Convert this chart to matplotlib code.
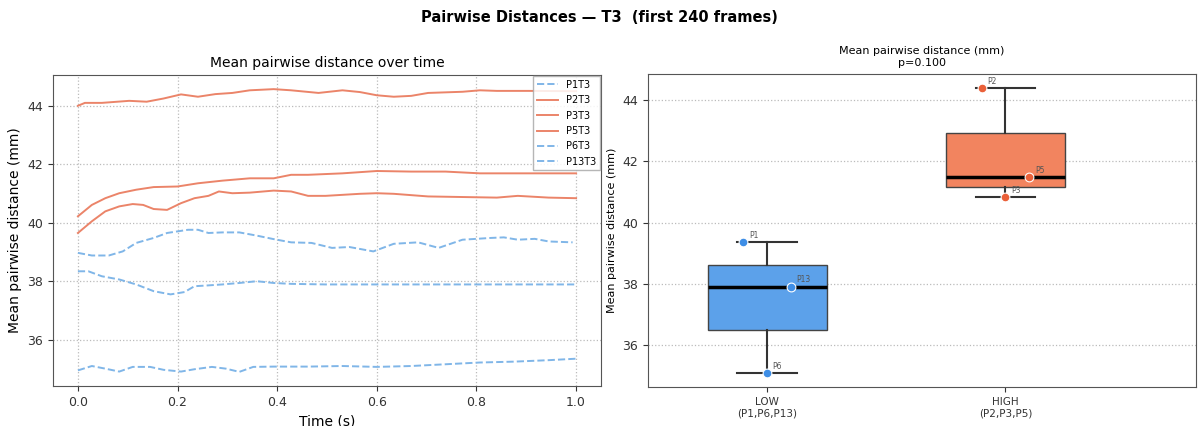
import matplotlib
matplotlib.use("Agg")
import matplotlib.pyplot as plt
import numpy as np

# ---- time series: mean pairwise distance (mm) per participant ----
t_p1 = [0.0, 0.028, 0.062, 0.09, 0.117, 0.152, 0.179, 0.221, 0.241, 0.262, 0.29, 0.324, 0.359,
        0.393, 0.428, 0.469, 0.51, 0.545, 0.593, 0.634, 0.683, 0.724, 0.772, 0.828, 0.855, 0.883,
        0.917, 0.945, 0.993]
p1 = [38.97, 38.88, 38.88, 39.02, 39.31, 39.48, 39.65, 39.76, 39.76, 39.65, 39.67, 39.67, 39.56,
      39.44, 39.33, 39.31, 39.14, 39.17, 39.02, 39.28, 39.33, 39.14, 39.42, 39.48, 39.5, 39.42,
      39.45, 39.36, 39.33]

t_p2 = [0.0, 0.014, 0.048, 0.103, 0.138, 0.172, 0.207, 0.241, 0.276, 0.31, 0.345, 0.393, 0.428,
        0.483, 0.531, 0.566, 0.6, 0.634, 0.669, 0.703, 0.772, 0.807, 0.841, 0.903, 1.0]
p2 = [44.0, 44.1, 44.1, 44.17, 44.14, 44.25, 44.39, 44.31, 44.4, 44.44, 44.53, 44.57, 44.53,
      44.44, 44.53, 44.47, 44.36, 44.31, 44.34, 44.44, 44.48, 44.53, 44.51, 44.51, 44.5]

t_p3 = [0.0, 0.028, 0.055, 0.083, 0.11, 0.131, 0.152, 0.179, 0.207, 0.234, 0.262, 0.283, 0.31,
        0.345, 0.393, 0.428, 0.462, 0.497, 0.566, 0.6, 0.634, 0.703, 0.772, 0.841, 0.883, 0.945, 1.0]
p3 = [39.65, 40.05, 40.39, 40.56, 40.64, 40.61, 40.47, 40.44, 40.67, 40.84, 40.92, 41.07, 41.01,
      41.03, 41.1, 41.07, 40.92, 40.92, 40.99, 41.01, 40.99, 40.9, 40.88, 40.86, 40.92, 40.86, 40.84]

t_p5 = [0.0, 0.028, 0.055, 0.083, 0.117, 0.152, 0.2, 0.241, 0.29, 0.345, 0.393, 0.428, 0.462,
        0.531, 0.6, 0.669, 0.738, 0.807, 0.876, 0.945, 1.0]
p5 = [40.22, 40.61, 40.84, 41.01, 41.13, 41.22, 41.24, 41.35, 41.44, 41.52, 41.52, 41.64, 41.64,
      41.69, 41.77, 41.75, 41.75, 41.69, 41.69, 41.69, 41.69]

t_p6 = [0.0, 0.028, 0.055, 0.083, 0.11, 0.145, 0.172, 0.207, 0.234, 0.269, 0.297, 0.324, 0.352,
        0.393, 0.462, 0.531, 0.6, 0.669, 0.738, 0.807, 0.876, 0.945, 1.0]
p6 = [34.95, 35.1, 35.01, 34.91, 35.07, 35.07, 34.97, 34.91, 34.99, 35.07, 35.01, 34.9, 35.07,
      35.08, 35.08, 35.1, 35.07, 35.1, 35.16, 35.22, 35.25, 35.3, 35.35]

t_p13 = [0.0, 0.021, 0.048, 0.083, 0.117, 0.152, 0.186, 0.214, 0.234, 0.255, 0.29, 0.324, 0.359,
         0.393, 0.428, 0.497, 0.634, 0.772, 1.0]
p13 = [38.34, 38.34, 38.17, 38.06, 37.89, 37.66, 37.55, 37.63, 37.83, 37.85, 37.89, 37.94, 38.0,
       37.94, 37.91, 37.89, 37.89, 37.89, 37.89]

# ---- per-participant means, grouped ----
low_names = ["P1", "P6", "P13"]
low_vals = [39.35, 35.1, 37.91]
high_names = ["P2", "P3", "P5"]
high_vals = [44.38, 40.82, 41.47]
group_labels = ["LOW\n(P1,P6,P13)", "HIGH\n(P2,P3,P5)"]
p_value = 0.100

ORANGE_LINE = "#eb8469"
BLUE_LINE = "#80b6e8"
LOW_FACE = "#5ca1ea"
HIGH_FACE = "#f2845f"
LOW_PT = "#3e8ee6"
HIGH_PT = "#ea6039"

fig = plt.figure(figsize=(11.98, 4.26), dpi=100)
fig.text(0.5, 1 - 18 / 426, "Pairwise Distances \u2014 T3  (first 240 frames)",
         ha="center", va="center", fontsize=10.5, fontweight="bold")

# ---- left: time series ----
ax1 = fig.add_axes([53 / 1198, 1 - 386 / 426, 548 / 1198, 311 / 426])
series = [("P1T3", t_p1, p1, BLUE_LINE, "--"),
          ("P2T3", t_p2, p2, ORANGE_LINE, "-"),
          ("P3T3", t_p3, p3, ORANGE_LINE, "-"),
          ("P5T3", t_p5, p5, ORANGE_LINE, "-"),
          ("P6T3", t_p6, p6, BLUE_LINE, "--"),
          ("P13T3", t_p13, p13, BLUE_LINE, "--")]
for name, tt, vv, col, ls in series:
    ax1.plot(tt, vv, color=col, ls=ls, lw=1.4, label=name)
ax1.set_xlim(-0.05, 1.05)
ax1.set_xticks([0.0, 0.2, 0.4, 0.6, 0.8, 1.0])
ax1.set_yticks([36, 38, 40, 42, 44])
ax1.tick_params(labelsize=9, colors="#333333")
ax1.grid(True, ls=":", color="#bbbbbb", lw=0.9)
ax1.set_title("Mean pairwise distance over time", fontsize=10)
ax1.set_xlabel("Time (s)", fontsize=10)
ax1.set_ylabel("Mean pairwise distance (mm)", fontsize=10)
leg = ax1.legend(loc="upper right", fontsize=7, borderaxespad=0.1, fancybox=False,
                 framealpha=0.85, handlelength=2.2, labelspacing=0.55)
leg.get_frame().set_edgecolor("#aaaaaa")
for s in ax1.spines.values():
    s.set_color("#555555")

# ---- right: group box plot ----
ax2 = fig.add_axes([648 / 1198, 1 - 387 / 426, 548 / 1198, 313 / 426])
bp = ax2.boxplot([low_vals, high_vals], positions=[0, 1], widths=0.5, patch_artist=True,
                 whis=(0, 100), showfliers=False,
                 medianprops=dict(color="black", lw=2.5),
                 whiskerprops=dict(color="#333333", lw=1.5),
                 capprops=dict(color="#333333", lw=1.5),
                 boxprops=dict(edgecolor="#444444", lw=1.0))
for patch, fc in zip(bp["boxes"], [LOW_FACE, HIGH_FACE]):
    patch.set_facecolor(fc)

offsets = [-0.1, 0.0, 0.1]
for pos, names, vals, col in [(0, low_names, low_vals, LOW_PT), (1, high_names, high_vals, HIGH_PT)]:
    xs = [pos + o for o in offsets]
    ax2.scatter(xs, vals, s=40, color=col, edgecolor="white", lw=0.8, zorder=5)
    for x, v, n in zip(xs, vals, names):
        ax2.annotate(n, (x, v), xytext=(4, 3), textcoords="offset points",
                     fontsize=5.5, color="#555555")

ax2.set_xlim(-0.5, 1.8)
ax2.set_xticks([0, 1])
ax2.set_xticklabels(group_labels, fontsize=7.5)
ax2.set_yticks([36, 38, 40, 42, 44])
ax2.tick_params(axis="y", labelsize=9)
ax2.tick_params(colors="#333333")
ax2.grid(True, axis="y", ls=":", color="#bbbbbb", lw=0.9)
ax2.set_axisbelow(True)
ax2.set_ylabel("Mean pairwise distance (mm)", fontsize=8)
ax2.set_title(f"Mean pairwise distance (mm)\np={p_value:.3f}", fontsize=8)
for s in ax2.spines.values():
    s.set_color("#555555")

fig.savefig("out.png", dpi=100)
